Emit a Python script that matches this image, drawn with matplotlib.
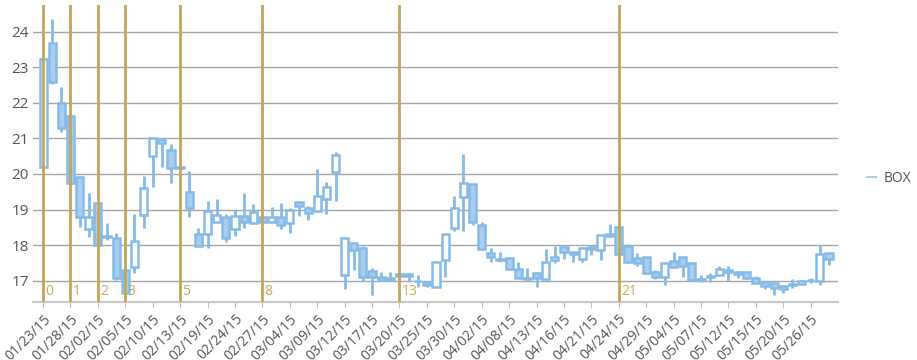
import numpy as np
import pandas as pd
from matplotlib import pyplot as plt
from matplotlib.lines import Line2D

plt.rcParams['font.family'] = ['Open Sans', 'DejaVu Sans']

# trading days (NYSE holidays skipped)
dates = pd.bdate_range('2015-01-23', periods=87, freq='C',
                       holidays=['2015-02-16', '2015-04-03', '2015-05-25'])

opens = [20.20, 23.67, 22.00, 21.63, 19.92, 18.45, 19.19, 18.25, 18.20, 17.30,
         17.38, 18.85, 20.50, 20.88, 20.67, 20.20, 19.50, 18.30, 18.31, 18.66,
         18.80, 18.44, 18.82, 18.63, 18.80, 18.66, 18.78, 18.63, 19.20, 19.03,
         18.97, 19.29, 20.06, 17.16, 18.05, 17.93, 17.28, 17.11, 17.08, 17.20,
         17.20, 17.00, 16.97, 16.83, 17.58, 18.47, 19.34, 19.71, 18.56, 17.79,
         17.61, 17.65, 17.33, 17.08, 17.23, 17.05, 17.58, 17.96, 17.80, 17.60,
         17.96, 17.86, 18.26, 18.50, 17.97, 17.65, 17.67, 17.24, 17.10, 17.56,
         17.67, 17.49, 17.05, 17.12, 17.16, 17.29, 17.25, 17.24, 17.07, 16.97,
         16.93, 16.86, 16.91, 16.90, 17.03, 17.00, 17.77]
closes = [23.23, 22.59, 21.28, 19.76, 18.78, 18.80, 18.00, 18.22, 17.08, 16.65,
          18.12, 19.60, 21.00, 20.95, 20.16, 20.18, 19.03, 17.97, 18.97, 18.85,
          18.19, 18.82, 18.66, 18.94, 18.66, 18.78, 18.56, 19.00, 19.11, 18.91,
          19.39, 19.64, 20.53, 18.21, 17.86, 17.11, 17.11, 17.02, 17.03, 17.13,
          17.12, 17.00, 16.88, 17.53, 18.30, 19.05, 19.75, 18.66, 17.88, 17.66,
          17.58, 17.33, 17.08, 17.06, 17.07, 17.52, 17.67, 17.81, 17.76, 17.93,
          17.90, 18.28, 18.30, 17.75, 17.53, 17.49, 17.21, 17.11, 17.51, 17.39,
          17.41, 17.02, 17.03, 17.10, 17.32, 17.24, 17.19, 17.07, 16.93, 16.85,
          16.80, 16.77, 16.89, 17.00, 17.01, 17.75, 17.61]
highs = [23.25, 24.37, 22.45, 21.65, 19.95, 19.46, 19.20, 18.63, 18.33, 17.31,
         18.87, 19.94, 21.00, 21.00, 20.84, 20.20, 20.08, 18.47, 19.24, 19.29,
         18.87, 19.00, 19.47, 19.17, 18.81, 19.06, 19.19, 19.05, 19.21, 19.10,
         20.13, 19.78, 20.62, 18.22, 18.06, 17.97, 17.35, 17.24, 17.25, 17.22,
         17.21, 17.16, 16.98, 17.54, 18.31, 19.38, 20.56, 19.72, 18.66, 17.91,
         17.81, 17.68, 17.52, 17.35, 17.24, 17.88, 17.97, 17.97, 17.81, 17.94,
         17.97, 18.29, 18.59, 18.51, 18.03, 17.77, 17.68, 17.30, 17.52, 17.81,
         17.68, 17.50, 17.16, 17.21, 17.41, 17.42, 17.26, 17.25, 17.13, 16.98,
         16.94, 16.87, 17.05, 17.01, 17.07, 18.00, 17.78]
lows = [20.18, 22.52, 21.17, 19.75, 18.52, 18.22, 17.99, 18.14, 17.02, 16.63,
        17.21, 18.47, 19.64, 20.20, 19.75, 20.15, 18.80, 17.96, 17.91, 18.65,
        18.10, 18.26, 18.47, 18.62, 18.65, 18.65, 18.45, 18.33, 18.82, 18.70,
        18.96, 18.87, 19.25, 16.76, 17.30, 17.00, 16.60, 17.01, 17.01, 17.10,
        17.00, 16.83, 16.83, 16.82, 17.11, 18.40, 18.40, 18.56, 17.87, 17.53,
        17.53, 17.32, 17.07, 17.02, 16.81, 17.04, 17.51, 17.60, 17.52, 17.52,
        17.72, 17.58, 18.22, 17.74, 17.49, 17.41, 17.20, 17.04, 16.88, 17.38,
        17.11, 17.01, 16.97, 16.95, 17.15, 17.00, 17.07, 17.06, 16.92, 16.76,
        16.60, 16.66, 16.79, 16.89, 16.93, 16.88, 17.44]

fib = [0, 1, 2, 3, 5, 8, 13, 21]
tick_step = 3
series_name = 'BOX'

edge = '#86bbe7'
fill = '#a8cdef'
gold = '#c4a656'

fig = plt.figure(figsize=(9.17, 3.6), dpi=100)
ax = fig.add_axes([0.036, 0.161, 0.878, 0.825])

x = np.arange(len(opens))
o, c = np.array(opens), np.array(closes)
up = c >= o

ax.vlines(x, lows, highs, color=edge, lw=2, zorder=2)
ax.bar(x, np.abs(c - o), bottom=np.minimum(o, c), width=0.78,
       color=np.where(up, 'white', fill), edgecolor=edge, linewidth=1.8, zorder=3)

for k in fib:
    xi = k * tick_step
    ax.axvline(xi, color=gold, lw=2, zorder=4)
    ax.text(xi + 0.25, 16.48, str(k), color='#c9aa5c', fontsize=10,
            ha='left', va='bottom', zorder=5)

ax.set_xlim(-1.1, 87)
ax.set_ylim(16.4, 24.75)
ax.set_yticks(range(17, 25))
ax.grid(True, axis='y', color='#a6a6a6', lw=1)
ax.set_axisbelow(True)
ticks = x[::tick_step]
ax.set_xticks(ticks)
ax.set_xticklabels([d.strftime('%m/%d/%y') for d in dates[::tick_step]],
                   rotation=45, ha='right', rotation_mode='anchor')
ax.tick_params(axis='x', length=4, color='#c0c0c0', labelsize=10,
               labelcolor='#555555', pad=3)
ax.tick_params(axis='y', length=0, labelsize=11, labelcolor='#555555', pad=3)
for s in ['top', 'right', 'left']:
    ax.spines[s].set_visible(False)
ax.spines['bottom'].set_color('#c8c8c8')
ax.spines['bottom'].set_linewidth(1.5)

handle = Line2D([], [], color=fill, lw=1.5)
fig.legend([handle], [series_name], loc='center left', bbox_to_anchor=(0.945, 0.505),
           frameon=False, handlelength=0.7, handletextpad=0.5, fontsize=10,
           labelcolor='#555555', borderpad=0, borderaxespad=0)

fig.savefig('out.png', dpi=100)
